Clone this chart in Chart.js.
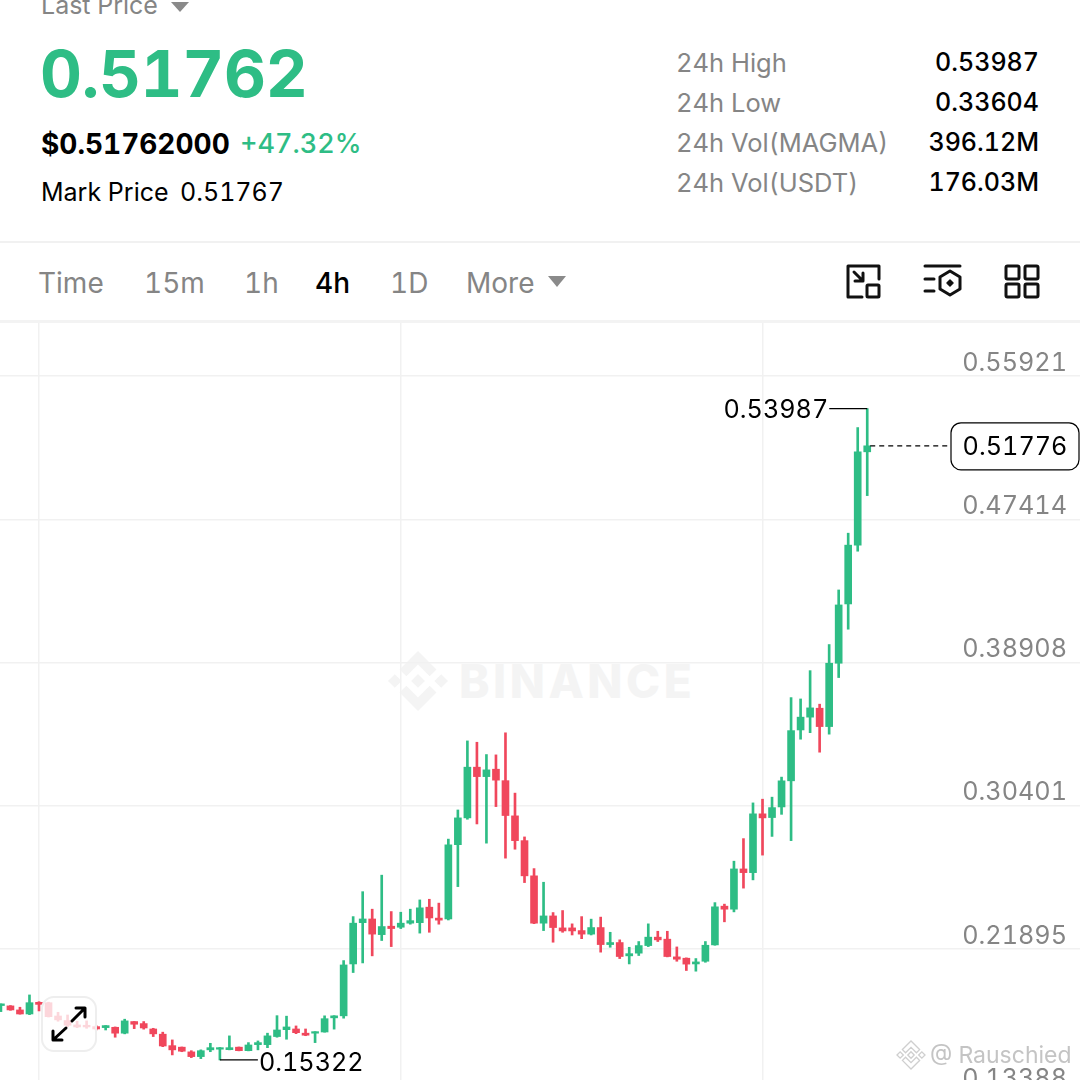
<!doctype html>
<html lang="en">
<head>
<meta charset="utf-8">
<title>MAGMA/USDT 4h</title>
<style>
html, body { margin:0; padding:0; width:1080px; height:1080px; overflow:hidden; background:#fff; }
body { font-family:Inter, sans-serif; color:#000; position:relative; font-variant-numeric:tabular-nums; }
.t { position:absolute; white-space:nowrap; line-height:1; }
.gray { color:#858585; }
.line { position:absolute; left:0; width:1080px; background:#f1f1f1; }
#chart { position:absolute; left:0; top:322px; }
svg { position:absolute; overflow:visible; }
</style>
</head>
<body>

<svg id="wm" style="left:388px;top:651px" width="60" height="60" viewBox="0 0 126.61 126.61">
  <path fill="#f4f4f4" d="M38.73 53.2l24.59-24.58 24.6 24.6 14.3-14.31L63.32 0 24.43 38.9zM0 63.31l14.3-14.31 14.31 14.3-14.31 14.31zM38.73 73.41l24.59 24.59 24.6-24.6 14.31 14.29-38.9 38.91-38.91-38.88-.02-.02zM98.01 63.31l14.3-14.31 14.31 14.3-14.31 14.31zM77.83 63.3L63.32 48.78 52.59 59.51l-1.24 1.23-2.54 2.54 14.51 14.5 14.51-14.47z"/>
</svg>
<div class="t" style="left:459px;top:658px;font-size:46px;font-weight:800;letter-spacing:3.5px;color:#f4f4f4">BINANCE</div>

<canvas id="chart" width="1080" height="788"></canvas>

<!-- header -->
<div class="t gray" style="left:41px;top:-7px;font-size:25px">Last Price</div>
<svg style="left:171px;top:2px" width="18" height="10"><path d="M0 0H18L9 10Z" fill="#8a8a8a"/></svg>
<div class="t" style="left:40px;top:41px;font-size:65px;font-weight:700;color:#2ebd85;letter-spacing:-.3px">0.51762</div>
<div class="t" style="left:41px;top:130px;font-size:28px;font-weight:700">$0.51762000</div>
<div class="t" style="left:240px;top:130px;font-size:27px;color:#2ebd85;font-weight:500">+47.32%</div>
<div class="t" style="left:41px;top:180px;font-size:25px">Mark Price</div>
<div class="t" style="left:180px;top:180px;font-size:25px">0.51767</div>
<div id="stats"></div>
<div class="line" style="top:241px;height:2px"></div>

<!-- tabs -->
<div id="tabs"></div>
<svg style="left:548px;top:276px" width="18" height="11"><path d="M0 0H18L9 11Z" fill="#8a8a8a"/></svg>
<svg style="left:0;top:0" width="1080" height="330" fill="none" stroke="#111" stroke-width="3" stroke-linecap="round" stroke-linejoin="round">
  <path d="M862 297H848V266H879V279"/>
  <rect x="867" y="285" width="12" height="12" rx="1"/>
  <path d="M854 272L863 281M863 273V281H855"/>
  <path d="M925 266H960M925 279H934M925 291H934"/>
  <path d="M950 271L960 277V289L950 295L940 289V277Z"/>
  <path d="M950 280L953 283L950 286L947 283Z" fill="#111" stroke-width="1.5"/>
  <rect x="1006" y="266" width="13" height="13" rx="1.5"/>
  <rect x="1025" y="266" width="13" height="13" rx="1.5"/>
  <rect x="1006" y="284" width="13" height="13" rx="1.5"/>
  <rect x="1025" y="284" width="13" height="13" rx="1.5"/>
</svg>
<div class="line" style="top:320px;height:3px;background:#f3f3f3"></div>

<!-- expand button over the candles -->
<div style="position:absolute;left:41px;top:996px;width:52px;height:52px;border:2.5px solid #eee;border-radius:13px;background:rgba(255,255,255,.78)"></div>
<svg style="left:0;top:0" width="110" height="1060" fill="none" stroke="#000" stroke-width="3" stroke-linecap="round" stroke-linejoin="round">
  <path d="M72 1021L85 1008M76 1008H85V1017"/>
  <path d="M66 1028L53 1040M53 1031V1040H62"/>
</svg>

<!-- credit -->
<svg style="left:897px;top:1041px" width="28" height="28" viewBox="0 0 126.61 126.61">
  <path fill="none" stroke="#cfcfcf" stroke-width="6" d="M38.73 53.2l24.59-24.58 24.6 24.6 14.3-14.31L63.32 0 24.43 38.9zM0 63.31l14.3-14.31 14.31 14.3-14.31 14.31zM38.73 73.41l24.59 24.59 24.6-24.6 14.31 14.29-38.9 38.91-38.91-38.88-.02-.02zM98.01 63.31l14.3-14.31 14.31 14.3-14.31 14.31zM77.83 63.3L63.32 48.78 52.59 59.51l-1.24 1.23-2.54 2.54 14.51 14.5 14.51-14.47z"/>
</svg>
<div class="t" style="left:930px;top:1044px;font-size:23px;color:#c4c4c4;background:rgba(255,255,255,.55)">@ Rauschied</div>

<script src="https://cdnjs.cloudflare.com/ajax/libs/Chart.js/4.4.1/chart.umd.js"></script>
<script>
var statLabels = ["24h High", "24h Low", "24h Vol(MAGMA)", "24h Vol(USDT)"];
var statValues = ["0.53987", "0.33604", "396.12M", "176.03M"];
var tabNames = ["Time", "15m", "1h", "4h", "1D", "More"];
var tabLeft = [38, 144, 244, 315, 390, 466];

var yTicks = [0.55921, 0.47414, 0.38908, 0.30401, 0.21895, 0.13388];
var xGrid = [0, 38, 76];

var lastPrice = 0.51776;
var highMark = 0.53987;
var lowMark = 0.15322;

var candleIdx = [];
for (var n = -4; n <= 87; n++) candleIdx.push(n);

var opens = [
  0.1855,0.1853,0.1829,0.1805,0.1874,0.1872,0.1793,0.1766,0.1740,0.1738,
  0.1730,0.1724,0.1726,0.1691,0.1760,0.1748,0.1716,0.1685,0.1617,0.1608,
  0.1580,0.1552,0.1592,0.1596,0.1593,0.1608,0.1587,0.1623,0.1623,0.1671,
  0.1712,0.1716,0.1691,0.1691,0.1698,0.1782,0.1794,0.2102,0.2347,0.2369,
  0.2276,0.2326,0.2320,0.2344,0.2347,0.2439,0.2374,0.2369,0.2810,0.2969,
  0.3270,0.3214,0.3258,0.3190,0.2981,0.2834,0.2625,0.2344,0.2387,0.2316,
  0.2316,0.2300,0.2279,0.2318,0.2217,0.2229,0.2150,0.2166,0.2211,0.2261,
  0.2249,0.2144,0.2136,0.2102,0.2118,0.2215,0.2445,0.2427,0.2666,0.2644,
  0.2993,0.2971,0.3034,0.3189,0.3491,0.3567,0.3620,0.3511,0.3887,0.4239,
  0.4588,0.5142];
var highs = [
  0.1865,0.1855,0.1845,0.1918,0.1878,0.1875,0.1815,0.1799,0.1762,0.1764,
  0.1736,0.1736,0.1728,0.1774,0.1760,0.1760,0.1720,0.1697,0.1651,0.1609,
  0.1587,0.1592,0.1631,0.1606,0.1675,0.1609,0.1635,0.1645,0.1691,0.1795,
  0.1792,0.1734,0.1716,0.1700,0.1794,0.1795,0.2122,0.2383,0.2531,0.2427,
  0.2629,0.2413,0.2409,0.2427,0.2482,0.2486,0.2463,0.2843,0.3016,0.3426,
  0.3418,0.3345,0.3343,0.3474,0.3116,0.2856,0.2668,0.2587,0.2407,0.2419,
  0.2340,0.2383,0.2368,0.2380,0.2290,0.2245,0.2201,0.2235,0.2340,0.2296,
  0.2296,0.2203,0.2138,0.2134,0.2235,0.2466,0.2457,0.2712,0.2846,0.3058,
  0.3080,0.3092,0.3211,0.3683,0.3675,0.3843,0.3644,0.3998,0.4322,0.4659,
  0.5286,0.53987];
var lows = [
  0.1819,0.1827,0.1804,0.1801,0.1823,0.1787,0.1762,0.1730,0.1724,0.1720,
  0.1710,0.1710,0.1667,0.1687,0.1718,0.1715,0.1671,0.1611,0.1562,0.1581,
  0.1546,0.1540,0.1581,0.15322,0.1592,0.1586,0.1586,0.1592,0.1605,0.1667,
  0.1655,0.1688,0.1676,0.1635,0.1697,0.1715,0.1780,0.2051,0.2108,0.2150,
  0.2241,0.2205,0.2312,0.2338,0.2285,0.2290,0.2338,0.2363,0.2561,0.2961,
  0.2933,0.2819,0.3036,0.2730,0.2783,0.2585,0.2341,0.2300,0.2231,0.2290,
  0.2274,0.2252,0.2274,0.2172,0.2201,0.2134,0.2102,0.2152,0.2205,0.2235,
  0.2144,0.2118,0.2063,0.2059,0.2112,0.2213,0.2352,0.2411,0.2552,0.2601,
  0.2748,0.2859,0.2990,0.2834,0.3436,0.3475,0.3359,0.3466,0.3802,0.4089,
  0.4552,0.4882];
var closes = [
  0.1865,0.1829,0.1805,0.1872,0.1862,0.1789,0.1770,0.1738,0.1728,0.1728,
  0.1716,0.1736,0.1691,0.1764,0.1744,0.1722,0.1687,0.1615,0.1592,0.1584,
  0.1552,0.1587,0.1605,0.1605,0.1605,0.1587,0.1621,0.1635,0.1675,0.1710,
  0.1728,0.1694,0.1679,0.1700,0.1777,0.1794,0.2096,0.2344,0.2369,0.2279,
  0.2324,0.2312,0.2344,0.2359,0.2435,0.2375,0.2362,0.2809,0.2969,0.3270,
  0.3214,0.3254,0.3193,0.2983,0.2834,0.2625,0.2344,0.2387,0.2318,0.2298,
  0.2298,0.2279,0.2318,0.2217,0.2229,0.2146,0.2163,0.2211,0.2261,0.2245,
  0.2146,0.2130,0.2101,0.2114,0.2213,0.2441,0.2427,0.2666,0.2644,0.2993,
  0.2969,0.3030,0.3189,0.3487,0.3567,0.3622,0.3511,0.3887,0.4233,0.4588,
  0.5142,0.51776];

var GREEN = "#2ebd85", RED = "#f0475c";

// header text
statLabels.forEach(function (s, i) {
  var top = 50 + i * 40;
  document.getElementById("stats").insertAdjacentHTML("beforeend",
    '<div class="t gray" style="left:676px;top:' + top + 'px;font-size:25.5px">' + s + '</div>' +
    '<div class="t" style="right:41px;top:' + top + 'px;font-size:25px;font-weight:500">' + statValues[i] + '</div>');
});
tabNames.forEach(function (s, i) {
  var on = s === "4h";
  document.getElementById("tabs").insertAdjacentHTML("beforeend",
    '<div class="t' + (on ? '' : ' gray') + '" style="left:' + tabLeft[i] + 'px;top:269px;font-size:28px;font-weight:' + (on ? 500 : 400) + '">' + s + '</div>');
});

var colors = closes.map(function (c, i) { return c >= opens[i] ? GREEN : RED; });
var wicks = candleIdx.map(function (x, i) { return { x: x, y: [lows[i], highs[i]] }; });
var bodies = candleIdx.map(function (x, i) { return { x: x, y: [opens[i], closes[i]] }; });

var marks = {
  id: "marks",
  afterDatasetsDraw: function (chart) {
    var ctx = chart.ctx, xs = chart.scales.x, ys = chart.scales.y;
    ctx.save();
    ctx.fillStyle = "#000";
    ctx.strokeStyle = "#000";
    ctx.lineWidth = 1.2;
    ctx.font = "25.2px Inter, sans-serif";
    ctx.textBaseline = "middle";

    // highest
    var hx = xs.getPixelForValue(87), hy = ys.getPixelForValue(highMark);
    ctx.beginPath(); ctx.moveTo(hx - 38, hy); ctx.lineTo(hx, hy); ctx.stroke();
    ctx.textAlign = "right";
    ctx.fillText(highMark.toFixed(5), hx - 39, hy + 2);

    // lowest
    var lx = xs.getPixelForValue(19), ly = ys.getPixelForValue(lowMark);
    ctx.beginPath(); ctx.moveTo(lx, ly); ctx.lineTo(lx + 38, ly); ctx.stroke();
    ctx.textAlign = "left";
    ctx.fillText(lowMark.toFixed(5), lx + 39, ly + 3);

    // last price tag
    var py = ys.getPixelForValue(lastPrice);
    ctx.setLineDash([5, 4]);
    ctx.beginPath(); ctx.moveTo(hx + 3, py); ctx.lineTo(951, py); ctx.stroke();
    ctx.setLineDash([]);
    ctx.beginPath();
    ctx.roundRect(951, py - 23, 128, 47, 10);
    ctx.fillStyle = "#fff";
    ctx.fill();
    ctx.stroke();
    ctx.fillStyle = "#000";
    ctx.textAlign = "center";
    ctx.fillText(lastPrice.toFixed(5), 1015, py + 2);
    ctx.restore();
  }
};

function noPad(s) {
  s.paddingLeft = 0; s.paddingRight = 0; s.paddingTop = 0; s.paddingBottom = 0;
}

new Chart(document.getElementById("chart"), {
  type: "bar",
  data: {
    datasets: [
      { data: wicks, backgroundColor: colors, barThickness: 2, grouped: false, borderWidth: 0 },
      { data: bodies, backgroundColor: colors, barThickness: 7, grouped: false, borderWidth: 0 }
    ]
  },
  options: {
    responsive: false,
    animation: false,
    layout: { padding: 0 },
    plugins: { legend: { display: false }, tooltip: { enabled: false } },
    scales: {
      x: {
        type: "linear",
        offset: false,
        min: -4.097,
        max: 109.35,
        border: { display: false },
        grid: { offset: false, color: "#f1f1f1", lineWidth: 1.5, drawTicks: false },
        ticks: { display: false },
        afterBuildTicks: function (s) { s.ticks = xGrid.map(function (v) { return { value: v }; }); },
        afterFit: function (s) { s.height = 0; noPad(s); }
      },
      y: {
        position: "right",
        min: 0.1235,
        max: 0.59126,
        border: { display: false },
        grid: { color: "#f1f1f1", lineWidth: 1.5, drawTicks: false },
        ticks: {
          mirror: true,
          padding: -13,
          labelOffset: -13,
          autoSkip: false,
          color: "#858585",
          font: { family: "Inter, sans-serif", size: 25.2 },
          callback: function (v) { return v.toFixed(5); }
        },
        afterBuildTicks: function (s) { s.ticks = yTicks.map(function (v) { return { value: v }; }); },
        afterFit: function (s) { s.width = 0; noPad(s); }
      }
    }
  },
  plugins: [marks]
});
</script>
</body>
</html>
